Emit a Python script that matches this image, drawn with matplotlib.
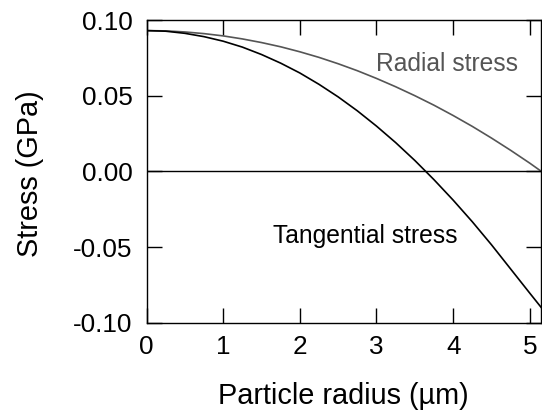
import matplotlib
matplotlib.use("Agg")
import matplotlib.pyplot as plt
from matplotlib.ticker import FuncFormatter

plt.rcParams['font.family'] = ['Liberation Sans', 'DejaVu Sans']
plt.rcParams['axes.unicode_minus'] = False

radius = [0.0, 0.25, 0.5, 0.75, 1.0, 1.25, 1.5, 1.75, 2.0, 2.25, 2.5, 2.75, 3.0,
          3.25, 3.5, 3.75, 4.0, 4.25, 4.5, 4.75, 5.0, 5.15]
radial = [0.0930, 0.0928, 0.0921, 0.0910, 0.0895, 0.0875, 0.0851, 0.0823, 0.0790,
          0.0753, 0.0711, 0.0665, 0.0614, 0.0559, 0.0500, 0.0437, 0.0369, 0.0297,
          0.0220, 0.0139, 0.0054, 0.0000]
tangential = [0.0930, 0.0926, 0.0912, 0.0890, 0.0860, 0.0821, 0.0772, 0.0715, 0.0650,
              0.0575, 0.0492, 0.0400, 0.0299, 0.0190, 0.0072, -0.0055, -0.0190,
              -0.0333, -0.0485, -0.0645, -0.0805, -0.0900]
xticks = [0, 1, 2, 3, 4, 5]
yticks = [-0.10, -0.05, 0.00, 0.05, 0.10]

W, H = 542, 411
fig = plt.figure(figsize=(W / 100, H / 100), dpi=100)
ax = fig.add_axes([146.5/W, 1 - 322.7/H, (541.3 - 146.5)/W, (322.7 - 20)/H])

ax.plot(radius, radial, color='#555555', lw=1.2)
ax.plot(radius, tangential, color='black', lw=1.2)
ax.axhline(0, color='black', lw=1.0)

ax.set_xlim(0, 5.15)
ax.set_ylim(-0.10, 0.10)
ax.set_xticks(xticks)
ax.set_yticks(yticks)
ax.yaxis.set_major_formatter(FuncFormatter(lambda v, p: f"{v:.2f}".replace('\u2212', '-')))
ax.tick_params(direction='in', length=11, width=1.0, top=True, right=True,
               labelsize=18.8)
ax.tick_params(axis='y', pad=10)
ax.tick_params(axis='x', pad=9)
for s in ax.spines.values():
    s.set_linewidth(1.0)

# axis labels placed at measured pixel positions
fig.text(343.7/W, 1 - 404/H, 'Particle radius (\u00b5m)', fontsize=20.8,
         ha='center', va='baseline')
fig.text(38.5/W, 1 - 174/H, 'Stress (GPa)', fontsize=20.8, rotation=90,
         rotation_mode='anchor', ha='center', va='baseline')

ax.text(3.0, 0.0665, 'Radial stress', color='#555555', fontsize=17.7,
        va='baseline', ha='left')
ax.text(1.654, -0.0475, 'Tangential stress', color='black', fontsize=17.7,
        va='baseline', ha='left')

fig.savefig('out.png', dpi=100)
